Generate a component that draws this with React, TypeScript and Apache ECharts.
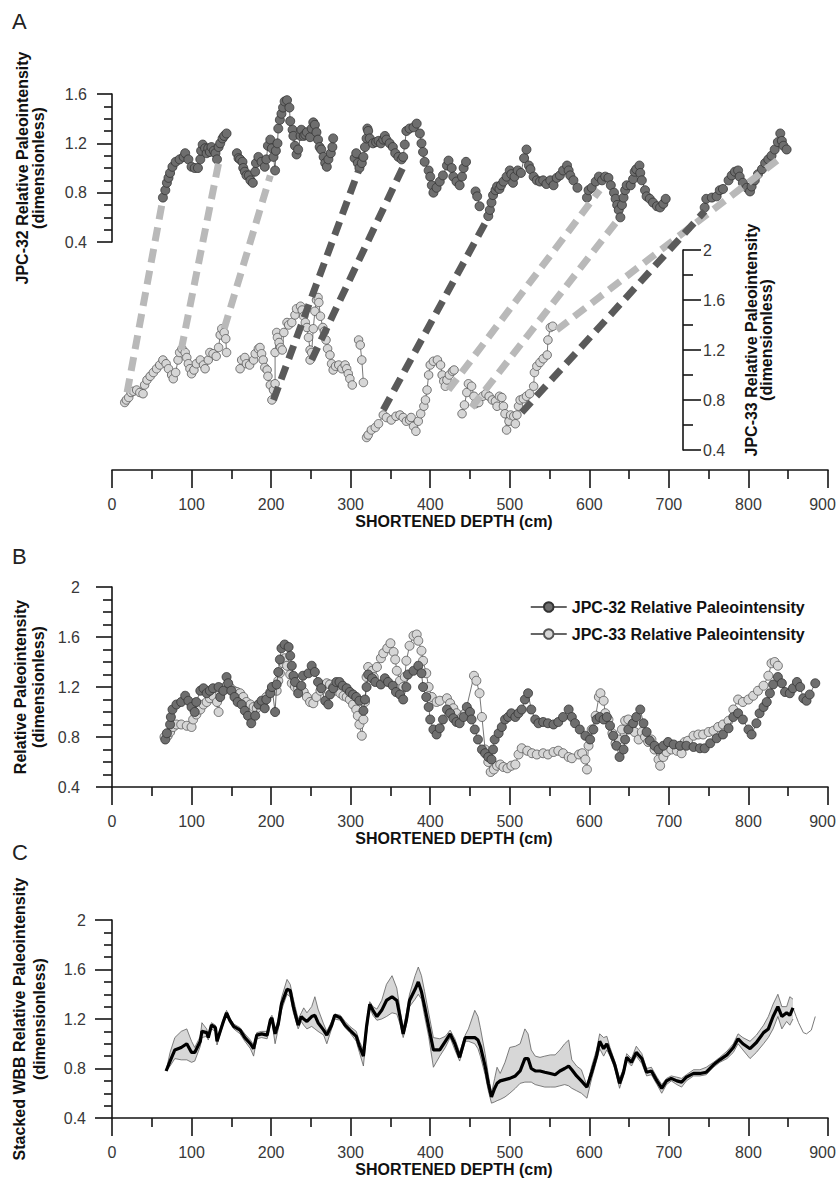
import React, { useEffect, useRef } from 'react';
import * as echarts from 'echarts';

const FONT = "'Liberation Sans', Arial, Helvetica, sans-serif";

// ---------------- Panel A: JPC-32 (upper record), gaps between segments
const A_JPC32_SEGMENTS: number[][][] = [
  [[64,0.76],[67,0.82],[69,0.88],[71,0.92],[73,0.96],[76,1.01],[80,1.05],[85,1.07],[90,1.09],[92,1.12],[96,1.07],[100,1.01],[104,1.00],[108,1.00],[111,1.07],[112,1.14],[114,1.19],[117,1.16],[119,1.12],[121,1.16],[123,1.13],[125,1.17],[128,1.14],[130,1.12],[132,1.07],[134,1.17],[136,1.20],[139,1.24],[141,1.26],[144,1.28]],
  [[157,1.12],[159,1.08],[161,1.07],[164,1.05],[165,1.00],[167,0.97],[169,0.94],[172,0.94],[174,0.90],[177,0.88],[180,0.97],[181,1.04],[184,1.09],[188,1.05],[192,1.01],[194,1.07],[196,1.18],[199,1.23],[201,1.16],[203,1.09],[205,0.98],[206,1.14],[208,1.20],[209,1.32],[211,1.39],[213,1.44],[215,1.49],[217,1.54],[220,1.55],[223,1.49],[224,1.38],[227,1.31],[228,1.26],[230,1.18],[232,1.11],[234,1.15],[237,1.26],[238,1.31],[241,1.26],[243,1.27],[245,1.29],[249,1.25],[251,1.32],[253,1.37],[255,1.35],[257,1.29],[259,1.23],[261,1.17],[263,1.15],[266,1.09],[268,1.04],[270,1.01],[272,1.07],[275,1.12],[277,1.17],[278,1.24]],
  [[305,1.08],[307,1.12],[309,1.04],[311,1.00],[314,1.04],[316,1.09],[318,1.17],[320,1.24],[321,1.32],[322,1.30],[324,1.24],[328,1.20],[332,1.21],[335,1.22],[338,1.20],[341,1.23],[343,1.26],[345,1.23],[349,1.20],[353,1.17],[356,1.12],[360,1.09],[364,1.07],[366,1.09],[368,1.19],[370,1.30],[374,1.32],[379,1.33],[383,1.36],[387,1.28],[389,1.20],[391,1.13],[393,1.05],[398,0.98],[400,0.93],[402,0.86],[404,0.80],[408,0.84],[412,0.89],[416,0.94],[421,1.02],[423,1.06],[427,1.00],[429,0.93],[433,0.89],[437,0.86],[440,0.93],[442,1.00],[445,1.05]],
  [[457,0.81],[459,0.77],[462,0.69]],
  [[473,0.61],[475,0.66],[477,0.72],[479,0.78],[482,0.82],[484,0.85],[487,0.83],[489,0.86],[492,0.89],[496,0.93],[500,0.98],[502,0.95],[504,0.88],[506,0.93],[510,0.98],[514,0.96],[518,1.08],[521,1.15],[524,1.02],[526,0.99],[530,0.93],[534,0.90],[538,0.89],[542,0.90],[546,0.87],[551,0.90],[555,0.86],[559,0.92],[563,0.94],[567,0.98],[572,1.02],[574,0.98],[576,0.94],[580,0.90],[585,0.84]],
  [[597,0.76],[599,0.82],[603,0.84],[608,0.89],[612,0.93],[616,0.90],[620,0.93],[624,0.92],[627,0.86],[631,0.80],[633,0.75],[635,0.70],[637,0.66],[639,0.60],[641,0.70],[643,0.76],[645,0.82],[647,0.86],[652,0.86],[655,0.91],[657,0.97],[659,0.99],[663,1.02],[664,0.96],[666,0.90],[670,0.82],[672,0.77],[676,0.75],[680,0.72],[685,0.69],[689,0.68],[693,0.71],[696,0.75]],
  [[745,0.68],[747,0.75],[754,0.76],[760,0.77],[764,0.82],[768,0.83],[775,0.90],[779,0.94],[783,0.97],[787,0.98],[789,0.93],[793,0.88],[798,0.84],[802,0.81],[804,0.85],[808,0.90],[812,0.95],[817,0.99],[821,1.04],[825,1.07],[829,1.10],[833,1.15],[837,1.21],[840,1.28],[842,1.22],[844,1.18],[848,1.15]],
];

// ---------------- Panel A: JPC-33 (lower record)
const A_JPC33_SEGMENTS: number[][][] = [
  [[16,0.78],[18,0.80],[21,0.82],[24,0.86],[27,0.87],[31,0.88],[35,0.86],[39,0.85],[41,0.92],[44,0.96],[48,0.99],[52,1.02],[56,1.05],[60,1.08],[64,1.12],[68,1.09],[71,1.05],[75,1.00],[77,0.97],[80,1.02],[83,1.12],[85,1.18],[88,1.21],[92,1.18],[94,1.14],[96,1.09],[98,1.05],[100,1.01],[103,1.04],[106,1.09],[111,1.12],[115,1.08],[117,1.05],[121,1.12],[123,1.18],[127,1.17],[131,1.15],[134,1.22],[136,1.32],[138,1.37],[141,1.34],[143,1.29],[144,1.18]],
  [[161,1.05],[163,1.12],[167,1.14],[169,1.09],[173,1.08],[178,1.12],[180,1.17],[184,1.21],[186,1.22],[188,1.17],[190,1.12],[192,1.06],[195,1.04],[196,0.99],[199,0.92],[201,0.80],[203,0.88],[205,0.93],[205,1.18],[207,1.34],[208,1.30],[210,1.26],[212,1.22],[214,1.20],[216,1.34],[220,1.42],[222,1.40],[226,1.42],[230,1.48],[232,1.53],[237,1.55],[239,1.52],[241,1.47],[243,1.42],[245,1.38],[247,1.30],[249,1.20],[249,1.12],[251,1.18],[253,1.37],[255,1.51],[257,1.60],[259,1.62],[260,1.58],[262,1.47],[265,1.38],[267,1.35],[269,1.28],[271,1.21],[274,1.16],[276,1.09],[278,1.04],[281,1.07],[285,1.08],[289,1.05],[293,1.08],[295,1.05],[297,1.01],[299,0.97],[302,0.92]],
  [[310,1.28],[312,1.24],[314,1.12],[316,0.94]],
  [[320,0.50],[322,0.52],[326,0.56],[331,0.58],[335,0.61],[341,0.68],[345,0.66],[351,0.64],[357,0.67],[362,0.68],[366,0.66],[370,0.63],[374,0.64],[376,0.66],[379,0.59],[382,0.55],[385,0.63],[388,0.69],[392,0.75],[394,0.80],[396,0.88],[398,1.00],[400,1.08],[404,1.11],[409,1.12],[413,1.08],[415,1.00],[417,0.95],[419,0.91],[421,0.96],[424,1.00],[428,1.03],[430,1.04]],
  [[440,0.69],[443,0.76],[446,0.86],[448,0.93],[452,0.91],[455,0.83],[457,0.77],[461,0.78],[466,0.83],[470,0.85],[474,0.83],[478,0.80],[482,0.79],[484,0.75],[487,0.83],[490,0.82],[492,0.75],[494,0.69],[496,0.56],[499,0.63],[501,0.68],[505,0.67],[507,0.61],[509,0.68],[511,0.75],[513,0.80],[517,0.81],[521,0.83],[525,0.85],[530,0.91],[531,1.02],[534,1.07],[538,1.10],[542,1.13],[547,1.16],[548,1.28],[551,1.38],[554,1.39]],
];

// Tie lines: [JPC-32 depth, JPC-32 value, JPC-33 depth, JPC-33 value]
const TIES_LIGHT: number[][] = [
  [64,0.75,19,0.86],[134,1.04,87,1.20],[199,0.94,141,1.37],
  [613,0.82,423,0.88],[636,0.58,452,0.74],[844,1.10,559,1.36],
];
const TIES_DARK: number[][] = [
  [310,0.98,203,0.80],[366,1.01,251,1.12],[473,0.60,341,0.72],[745,0.65,515,0.70],
];

// ---------------- Panel B
const B_JPC32: number[][] = [
  [67,0.78],[69,0.83],[73,0.90],[74,0.96],[76,1.02],[81,1.06],[87,1.08],[92,1.13],[96,1.09],[100,1.04],[104,1.00],[106,1.08],[111,1.17],[115,1.19],[119,1.15],[123,1.17],[127,1.19],[134,1.20],[136,1.12],[140,1.17],[144,1.28],[146,1.23],[150,1.17],[154,1.12],[158,1.08],[163,1.06],[167,1.01],[171,0.97],[175,0.91],[180,0.97],[184,1.06],[188,1.09],[192,1.03],[194,1.10],[199,1.15],[201,1.20],[205,1.00],[207,1.22],[209,1.32],[211,1.42],[213,1.51],[217,1.54],[222,1.52],[224,1.45],[226,1.37],[228,1.29],[230,1.24],[234,1.15],[238,1.21],[240,1.29],[247,1.31],[251,1.37],[255,1.32],[259,1.24],[263,1.19],[268,1.09],[272,1.06],[274,1.14],[278,1.19],[282,1.24],[286,1.24],[290,1.21],[295,1.19],[299,1.16],[303,1.14],[307,1.12],[311,1.09],[316,1.01],[318,1.10],[320,1.20],[322,1.30],[327,1.27],[331,1.24],[338,1.22],[343,1.27],[347,1.24],[353,1.21],[357,1.16],[362,1.14],[366,1.10],[370,1.20],[372,1.30],[379,1.33],[385,1.37],[389,1.31],[391,1.20],[395,1.12],[398,1.04],[400,0.94],[404,0.86],[408,0.82],[412,0.87],[416,0.94],[421,1.02],[425,0.99],[429,0.95],[433,0.92],[437,0.91],[442,0.96],[446,1.04],[450,1.00],[452,0.94],[456,0.86],[460,0.78],[465,0.70],[469,0.67],[473,0.64],[477,0.62],[479,0.70],[481,0.78],[486,0.83],[490,0.88],[494,0.94],[498,0.96],[502,0.99],[507,0.96],[511,0.99],[515,1.02],[519,1.10],[523,1.15],[527,1.02],[532,0.94],[536,0.91],[542,0.92],[548,0.91],[555,0.90],[561,0.92],[567,0.96],[574,1.02],[578,0.96],[582,0.91],[588,0.86],[595,0.81],[601,0.78],[605,0.86],[609,0.94],[613,0.96],[618,0.94],[622,0.96],[626,0.89],[630,0.81],[634,0.73],[638,0.64],[643,0.70],[645,0.78],[649,0.86],[655,0.91],[659,0.96],[664,1.02],[668,0.91],[672,0.84],[676,0.77],[682,0.73],[687,0.70],[693,0.73],[699,0.76],[706,0.74],[714,0.73],[722,0.73],[731,0.72],[739,0.71],[745,0.71],[752,0.75],[760,0.79],[768,0.82],[775,0.87],[781,0.96],[787,0.99],[793,0.94],[800,0.86],[804,0.82],[810,0.91],[814,0.99],[819,1.04],[823,1.08],[827,1.15],[831,1.22],[837,1.28],[842,1.23],[846,1.16],[852,1.15],[856,1.19],[861,1.24],[865,1.20],[869,1.11],[873,1.09],[877,1.14],[884,1.23],
];
const B_JPC33: number[][] = [
  [66,0.80],[70,0.81],[73,0.84],[77,0.88],[81,0.90],[87,0.90],[94,0.89],[100,0.88],[102,0.94],[106,0.98],[111,1.02],[115,1.06],[119,1.08],[123,1.11],[127,1.13],[132,1.08],[134,1.00],[136,1.15],[140,1.19],[144,1.21],[148,1.20],[153,1.17],[157,1.16],[161,1.15],[165,1.12],[169,1.08],[174,1.06],[178,1.04],[182,1.03],[186,1.06],[190,1.08],[194,1.12],[199,1.16],[203,1.20],[207,1.17],[209,1.25],[211,1.31],[215,1.39],[217,1.43],[220,1.37],[224,1.30],[226,1.23],[230,1.20],[234,1.19],[241,1.16],[245,1.12],[249,1.08],[253,1.07],[257,1.12],[262,1.17],[266,1.21],[270,1.23],[274,1.22],[278,1.20],[282,1.17],[287,1.15],[291,1.13],[295,1.12],[299,1.10],[303,1.06],[307,1.02],[309,0.97],[311,0.90],[314,0.81],[316,0.94],[318,1.08],[320,1.28],[322,1.36],[327,1.33],[329,1.28],[333,1.36],[338,1.43],[341,1.47],[346,1.51],[350,1.55],[354,1.48],[356,1.42],[358,1.33],[362,1.25],[366,1.20],[368,1.28],[370,1.41],[374,1.53],[379,1.61],[383,1.62],[385,1.57],[389,1.49],[391,1.41],[395,1.31],[398,1.20],[402,1.12],[408,1.08],[412,1.09],[421,1.11],[425,1.07],[429,1.03],[433,0.99],[440,0.96],[444,0.99],[455,1.29],[458,1.25],[462,1.15],[465,0.96],[469,0.70],[473,0.60],[476,0.52],[480,0.54],[484,0.57],[488,0.58],[492,0.56],[497,0.55],[502,0.57],[507,0.58],[511,0.66],[515,0.71],[522,0.69],[528,0.67],[534,0.66],[542,0.67],[548,0.66],[555,0.68],[561,0.69],[567,0.67],[574,0.64],[578,0.63],[587,0.66],[591,0.67],[595,0.62],[597,0.54],[599,0.73],[603,0.86],[608,0.97],[612,1.12],[614,1.15],[618,1.09],[620,0.99],[624,0.94],[629,0.83],[633,0.75],[637,0.78],[641,0.86],[645,0.93],[649,0.94],[654,0.90],[657,0.84],[662,0.78],[666,0.84],[670,0.80],[674,0.76],[678,0.78],[682,0.70],[687,0.62],[689,0.57],[693,0.64],[697,0.68],[703,0.70],[710,0.69],[716,0.67],[720,0.76],[724,0.77],[731,0.81],[737,0.82],[743,0.82],[750,0.84],[756,0.85],[762,0.88],[768,0.90],[775,0.93],[781,1.02],[787,1.10],[793,1.08],[800,1.10],[806,1.13],[812,1.17],[819,1.21],[825,1.29],[829,1.39],[833,1.40],[837,1.37],
];

// ---------------- Panel C: stacked WBB paleointensity with envelope
const C_DEPTH: number[] = [
  68,73,79,87,94,100,104,111,113,119,
  121,125,130,132,136,140,144,148,153,161,
  167,174,178,182,188,195,199,201,205,209,
  213,220,224,228,234,238,241,245,251,255,
  259,266,270,276,280,287,293,299,307,311,
  316,320,324,328,333,339,345,352,358,362,
  366,370,374,381,385,389,393,398,404,412,
  419,425,431,437,444,448,456,460,463,469,
  473,477,481,484,488,494,500,507,513,519,
  523,527,532,538,544,551,557,563,569,574,
  578,584,590,597,603,609,613,618,622,626,
  632,638,643,647,653,659,666,672,678,685,
  691,697,703,710,716,722,731,739,747,756,
  764,773,781,787,793,802,810,819,825,831,
  837,842,848,852,856,
];
const C_MEAN: number[] = [
  0.78,0.86,0.95,0.97,1.00,0.93,0.93,1.02,1.10,1.09,
  1.05,1.15,1.13,1.02,1.10,1.18,1.25,1.19,1.14,1.11,
  1.05,1.00,0.96,1.07,1.08,1.07,1.19,1.21,1.08,1.16,
  1.32,1.44,1.43,1.30,1.15,1.22,1.20,1.18,1.22,1.23,
  1.17,1.11,1.07,1.15,1.23,1.21,1.15,1.11,1.06,0.98,
  0.90,1.14,1.32,1.27,1.22,1.27,1.35,1.38,1.35,1.22,
  1.08,1.19,1.35,1.44,1.50,1.42,1.30,1.14,0.95,0.95,
  1.02,1.08,1.00,0.89,1.05,1.05,1.05,1.03,0.98,0.82,
  0.68,0.57,0.64,0.68,0.70,0.71,0.72,0.74,0.78,0.88,
  0.88,0.80,0.78,0.78,0.77,0.76,0.75,0.78,0.80,0.82,
  0.79,0.74,0.70,0.65,0.77,0.90,1.02,0.96,1.00,0.93,
  0.83,0.68,0.77,0.89,0.85,0.93,0.88,0.77,0.78,0.70,
  0.64,0.70,0.72,0.70,0.69,0.73,0.76,0.76,0.77,0.83,
  0.87,0.91,0.97,1.04,1.00,0.96,1.01,1.09,1.12,1.22,
  1.30,1.22,1.25,1.23,1.29,
];
const C_LOW: number[] = [
  0.78,0.82,0.88,0.87,0.87,0.85,0.86,0.98,1.05,1.06,
  1.03,1.12,1.10,0.99,1.08,1.16,1.23,1.17,1.12,1.08,
  1.02,0.96,0.90,1.04,1.05,1.04,1.15,1.18,1.00,1.12,
  1.27,1.40,1.38,1.25,1.12,1.18,1.15,1.12,1.14,1.12,
  1.10,1.07,1.00,1.12,1.20,1.19,1.13,1.09,1.02,0.93,
  0.82,1.08,1.29,1.23,1.19,1.20,1.22,1.25,1.24,1.16,
  1.05,1.15,1.30,1.36,1.40,1.36,1.22,1.06,0.81,0.90,
  0.97,1.05,0.95,0.86,1.02,1.02,1.00,0.96,0.90,0.75,
  0.62,0.52,0.53,0.54,0.55,0.57,0.60,0.64,0.68,0.69,
  0.69,0.69,0.67,0.66,0.65,0.65,0.65,0.66,0.67,0.66,
  0.64,0.62,0.60,0.56,0.72,0.86,0.96,0.90,0.95,0.90,
  0.80,0.64,0.74,0.86,0.82,0.90,0.84,0.74,0.75,0.67,
  0.60,0.67,0.70,0.67,0.65,0.70,0.74,0.74,0.75,0.81,
  0.85,0.88,0.93,1.00,0.95,0.88,0.93,1.00,1.05,1.12,
  1.22,1.12,1.18,1.15,1.20,
];
const C_HIGH: number[] = [
  0.78,0.93,1.05,1.10,1.12,1.02,0.97,1.06,1.17,1.12,
  1.07,1.17,1.15,1.05,1.12,1.20,1.27,1.21,1.16,1.13,
  1.08,1.03,0.99,1.09,1.10,1.10,1.21,1.23,1.12,1.20,
  1.37,1.52,1.48,1.36,1.20,1.25,1.29,1.25,1.30,1.38,
  1.28,1.16,1.10,1.18,1.24,1.23,1.18,1.14,1.10,1.02,
  0.95,1.18,1.34,1.30,1.28,1.35,1.48,1.55,1.45,1.28,
  1.12,1.25,1.40,1.55,1.62,1.55,1.42,1.25,1.05,1.04,
  1.06,1.11,1.04,0.93,1.07,1.12,1.27,1.22,1.13,0.92,
  0.75,0.60,0.72,0.81,0.76,0.85,0.97,0.98,1.00,1.12,
  1.08,0.95,0.90,0.89,0.90,0.91,0.91,0.95,1.00,1.03,
  0.87,0.82,0.79,0.66,0.82,0.95,1.08,1.05,1.06,0.97,
  0.86,0.72,0.80,0.92,0.88,0.98,0.92,0.80,0.81,0.73,
  0.67,0.72,0.74,0.73,0.72,0.75,0.79,0.79,0.81,0.85,
  0.89,0.94,1.00,1.08,1.05,1.02,1.07,1.15,1.22,1.32,
  1.40,1.30,1.30,1.38,1.36,
];
const C_TAIL: number[][] = [[856,1.29],[860,1.22],[863,1.17],[869,1.09],[873,1.08],[879,1.11],[884,1.22]];

const LEGEND_NAMES = ['JPC-32 Relative Paleointensity', 'JPC-33 Relative Paleointensity'];
const DEPTH_TITLE = 'SHORTENED DEPTH (cm)';

// ---------------- helpers
const AXIS_COLOR = '#151515';
const LABEL_COLOR = '#383838';

function joinSegments(segs: number[][][]) {
  const out: (number | null)[][] = [];
  segs.forEach((seg, i) => {
    if (i > 0) out.push([seg[0][0], null]);
    seg.forEach((p) => out.push(p));
  });
  return out;
}

function xAxisCfg(gridIndex: number, show: boolean, offset: number) {
  return {
    type: 'value', gridIndex, min: 0, max: 900, interval: 100, show, offset, position: 'bottom',
    axisLine: { show: true, onZero: false, lineStyle: { color: AXIS_COLOR, width: 1.6 } },
    axisTick: { show: true, length: 18, lineStyle: { color: AXIS_COLOR, width: 1.6 } },
    minorTick: { show: true, splitNumber: 2, length: 9, lineStyle: { color: AXIS_COLOR, width: 1.6 } },
    axisLabel: {
      margin: 26, fontSize: 16, color: LABEL_COLOR, fontFamily: FONT,
      formatter: (v: number) => (v === 900 ? '{m|900}' : String(v)),
      rich: { m: { fontSize: 16, color: LABEL_COLOR, fontFamily: FONT, padding: [0, 11, 0, 0] } },
    },
    splitLine: { show: false }, minorSplitLine: { show: false },
    name: DEPTH_TITLE, nameLocation: 'middle', nameGap: 43, nameMoveOverlap: false,
    nameTextStyle: { fontSize: 16, fontWeight: 'bold', color: '#111', fontFamily: FONT, padding: [0, 32, 0, 0] },
  };
}

function yAxisCfg(o: any) {
  return {
    type: 'value', gridIndex: o.gridIndex, min: o.min, max: o.max, interval: 0.4,
    position: o.position, offset: o.offset || 0,
    axisLine: { show: true, onZero: false, lineStyle: { color: AXIS_COLOR, width: 1.6 } },
    axisTick: { show: true, length: o.tickLen, lineStyle: { color: AXIS_COLOR, width: 1.6 } },
    minorTick: { show: true, splitNumber: o.minorSplit, length: o.minorLen, lineStyle: { color: AXIS_COLOR, width: 1.6 } },
    axisLabel: { margin: o.labelMargin, fontSize: 16, color: LABEL_COLOR, fontFamily: FONT },
    splitLine: { show: false }, minorSplitLine: { show: false },
    name: o.name, nameLocation: 'middle', nameGap: o.nameGap, nameMoveOverlap: false,
    nameTextStyle: {
      fontSize: 16, fontWeight: 'bold', color: '#111', fontFamily: FONT,
      lineHeight: o.lineHeight, padding: o.padding || 0,
    },
  };
}

function darkSeries(name: string, data: any[], axis: number) {
  return {
    type: 'line', name, data, xAxisIndex: axis, yAxisIndex: axis,
    symbol: 'circle', symbolSize: 9, connectNulls: false,
    itemStyle: { color: '#6e6e6e', borderColor: '#333333', borderWidth: 0.8 },
    lineStyle: { color: '#4a4a4a', width: 0.8 }, z: 3,
  };
}
function lightSeries(name: string, data: any[], axis: number, size: number) {
  return {
    type: 'line', name, data, xAxisIndex: axis, yAxisIndex: axis,
    symbol: 'circle', symbolSize: size, connectNulls: false,
    itemStyle: { color: '#d6d6d6', borderColor: '#555555', borderWidth: 0.8 },
    lineStyle: { color: '#555555', width: 0.8 }, z: 2,
  };
}

export default function App() {
  const ref = useRef<HTMLDivElement>(null);

  useEffect(() => {
    if (!ref.current) return;
    const chart = echarts.init(ref.current, null, { renderer: 'svg' });

    const n = Math.min(C_DEPTH.length, C_MEAN.length, C_LOW.length, C_HIGH.length);
    const cRows: number[][] = [];
    const cLow: number[][] = [];
    const cHigh: number[][] = [];
    const cMean: number[][] = [];
    for (let i = 0; i < n; i++) {
      cRows.push([C_DEPTH[i], C_LOW[i], C_HIGH[i]]);
      cLow.push([C_DEPTH[i], C_LOW[i]]);
      cHigh.push([C_DEPTH[i], C_HIGH[i]]);
      cMean.push([C_DEPTH[i], C_MEAN[i]]);
    }

    const gridBase = { left: 112, width: 716, containLabel: false, outerBoundsMode: 'none' };

    const option: any = {
      animation: false,
      backgroundColor: '#ffffff',
      textStyle: { fontFamily: FONT },
      grid: [
        { ...gridBase, top: 94, height: 148 },
        { ...gridBase, top: 250, height: 200 },
        { ...gridBase, top: 587, height: 200 },
        { ...gridBase, top: 920, height: 198 },
      ],
      xAxis: [
        xAxisCfg(0, false, 0),
        xAxisCfg(1, true, 20),
        xAxisCfg(2, true, 0),
        xAxisCfg(3, true, 0),
      ],
      yAxis: [
        yAxisCfg({ gridIndex: 0, min: 0.4, max: 1.6, position: 'left', tickLen: 15, minorSplit: 4, minorLen: 8,
          labelMargin: 25, name: 'JPC-32 Relative Paleointensity\n(dimensionless)', nameGap: 66, lineHeight: 16 }),
        yAxisCfg({ gridIndex: 1, min: 0.4, max: 2, position: 'right', offset: -145, tickLen: 18, minorSplit: 2, minorLen: 10,
          labelMargin: 20, name: 'JPC-33 Relative Paleointensity\n(dimensionless)', nameGap: 61, lineHeight: 15,
          padding: [0, 0, 0, 20] }),
        yAxisCfg({ gridIndex: 2, min: 0.4, max: 2, position: 'left', tickLen: 16, minorSplit: 4, minorLen: 9,
          labelMargin: 32, name: 'Relative Paleointensity\n(dimensionless)', nameGap: 65, lineHeight: 18 }),
        yAxisCfg({ gridIndex: 3, min: 0.4, max: 2, position: 'left', tickLen: 17, minorSplit: 4, minorLen: 8,
          labelMargin: 26, name: 'Stacked WBB Relative Paleointensity\n(dimensionless)', nameGap: 63, lineHeight: 20 }),
      ],
      legend: {
        data: LEGEND_NAMES, orient: 'vertical', left: 525, top: 594,
        itemWidth: 36, itemHeight: 12, itemGap: 11, selectedMode: false,
        lineStyle: { width: 1.5, color: '#333' },
        textStyle: { fontSize: 16, fontWeight: 'bold', color: '#111', fontFamily: FONT, lineHeight: 16 },
      },
      series: [
        darkSeries('JPC-32 panel A', joinSegments(A_JPC32_SEGMENTS), 0),
        lightSeries('JPC-33 panel A', joinSegments(A_JPC33_SEGMENTS), 1, 8.5),
        lightSeries(LEGEND_NAMES[1], B_JPC33, 2, 9),
        darkSeries(LEGEND_NAMES[0], B_JPC32, 2),
        {
          type: 'custom', name: 'envelope', xAxisIndex: 3, yAxisIndex: 3, z: 1,
          data: cRows, encode: { x: 0, y: [1, 2] },
          renderItem: (params: any, api: any) => {
            if (params.dataIndex !== 0) return null;
            const top = cRows.map((r) => api.coord([r[0], r[2]]));
            const bot = cRows.map((r) => api.coord([r[0], r[1]])).reverse();
            return {
              type: 'polygon',
              shape: { points: top.concat(bot) },
              style: { fill: '#d7d7d7', stroke: 'none' },
            };
          },
        },
        {
          type: 'line', name: 'lower', data: cLow, xAxisIndex: 3, yAxisIndex: 3,
          symbol: 'none', lineStyle: { color: '#606060', width: 0.8 }, z: 2,
        },
        {
          type: 'line', name: 'upper', data: cHigh, xAxisIndex: 3, yAxisIndex: 3,
          symbol: 'none', lineStyle: { color: '#606060', width: 0.8 }, z: 2,
        },
        {
          type: 'line', name: 'tail', data: C_TAIL, xAxisIndex: 3, yAxisIndex: 3,
          symbol: 'none', lineStyle: { color: '#7a7a7a', width: 1 }, z: 2,
        },
        {
          type: 'line', name: 'stack', data: cMean, xAxisIndex: 3, yAxisIndex: 3,
          symbol: 'none', lineStyle: { color: '#000', width: 3.2 }, z: 4,
        },
      ],
    };

    chart.setOption(option);

    const tieLines: any[] = [];
    const addTies = (ties: number[][], color: string) => {
      ties.forEach((t) => {
        const p1 = chart.convertToPixel({ xAxisIndex: 0, yAxisIndex: 0 }, [t[0], t[1]]) as number[];
        const p2 = chart.convertToPixel({ xAxisIndex: 1, yAxisIndex: 1 }, [t[2], t[3]]) as number[];
        if (!p1 || !p2) return;
        tieLines.push({
          type: 'line', z: 10, silent: true,
          shape: { x1: p2[0], y1: p2[1], x2: p1[0], y2: p1[1] },
          style: { stroke: color, lineWidth: 7, lineDash: [14, 8] },
        });
      });
    };
    addTies(TIES_LIGHT, '#b9b9b9');
    addTies(TIES_DARK, '#5a5a5a');

    const letter = (txt: string, top: number) => ({
      type: 'text', left: 12, top, silent: true,
      style: { text: txt, fontSize: 22, fontFamily: FONT, fill: '#222' },
    });

    chart.setOption({
      graphic: [letter('A', 10), letter('B', 545), letter('C', 841), ...tieLines],
    });

    return () => chart.dispose();
  }, []);

  return (
    <div
      ref={ref}
      style={{ position: 'absolute', left: 0, top: 0, width: 837, height: 1180, background: '#fff' }}
    />
  );
}
